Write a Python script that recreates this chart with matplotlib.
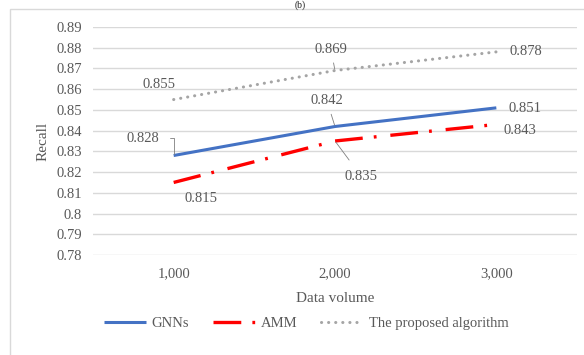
import matplotlib
matplotlib.use("Agg")
import matplotlib.pyplot as plt
from matplotlib.patches import Rectangle

categories = ["1,000", "2,000", "3,000"]
gnns = [0.828, 0.842, 0.851]
amm = [0.815, 0.835, 0.843]
proposed = [0.855, 0.869, 0.878]
yticks = [0.78, 0.79, 0.80, 0.81, 0.82, 0.83, 0.84, 0.85, 0.86, 0.87, 0.88, 0.89]
ytick_labels = ["0.78", "0.79", "0.8", "0.81", "0.82", "0.83", "0.84", "0.85", "0.86", "0.87", "0.88", "0.89"]

plt.rcParams['font.family'] = ['Liberation Serif', 'DejaVu Serif']
plt.rcParams['lines.scale_dashes'] = False
TXT = "#595959"
FS = 10.5

fig = plt.figure(figsize=(5.84, 3.55), dpi=100)
ax = fig.add_axes([93/584, 1-255/355, (577-93)/584, (255-27)/355])

# outer border
fig.patches.append(Rectangle((10/584, -0.05), 0.99, 1-9/355+0.05,
                             transform=fig.transFigure, fill=False,
                             edgecolor="#d9d9d9", lw=1))
fig.text(300/584, 0.999, "(b)", ha="center", va="top", fontsize=7, color="#222222")

x = list(range(len(categories)))
ax.set_xlim(-0.5, 2.5)
ax.set_ylim(0.78, 0.89)
ax.set_yticks(yticks)
ax.set_yticklabels(ytick_labels)
ax.set_xticks(x)
ax.set_xticklabels(categories)
ax.grid(axis="y", color="#d9d9d9", lw=1)
ax.set_axisbelow(True)
for s in ax.spines.values():
    s.set_visible(False)
ax.tick_params(length=0, labelsize=FS, colors=TXT)
ax.tick_params(axis="y", pad=8)
ax.tick_params(axis="x", pad=9)
ax.set_xlabel("Data volume", fontsize=FS+0.5, color=TXT, labelpad=8)
ax.set_ylabel("Recall", fontsize=FS+0.5, color=TXT, labelpad=5)

ax.plot(x, gnns, color="#4472C4", lw=2.2, solid_capstyle="butt", label="GNNs")
ax.plot(x, amm, color="#FF0000", lw=2.4, linestyle=(0, (20, 8, 2, 10)),
        dash_capstyle="butt", label="AMM")
ax.plot(x, proposed, color="#A5A5A5", lw=2.2, linestyle=(0, (0.1, 5)),
        dash_capstyle="round", label="The proposed algorithm")

def lab(xi, yi, dx, dy, leader=False, conn="arc3", shrinkA=6):
    kw = {}
    if leader:
        kw["arrowprops"] = dict(arrowstyle="-", color="#7f7f7f", lw=0.6,
                                shrinkA=shrinkA, shrinkB=1, connectionstyle=conn)
    ax.annotate(f"{yi:.3f}", (xi, yi), xytext=(dx, dy), textcoords="offset pixels",
                ha="center", va="center", fontsize=FS, color=TXT, **kw)

lab(0, proposed[0], -15, 15)
lab(1, proposed[1], -4, 21, leader=True, shrinkA=3)
lab(2, proposed[2], 30, 0)
lab(0, gnns[0], -31, 17.5, leader=True, conn="angle,angleA=0,angleB=90,rad=0")
lab(1, gnns[1], -8, 25.5, leader=True, shrinkA=3)
lab(2, gnns[2], 29, -1)
lab(0, amm[0], 27, -16.5)
lab(1, amm[1], 26, -35, leader=True)
lab(2, amm[2], 24, -5.6)

leg = fig.legend(loc="center", bbox_to_anchor=(306/584, 1-323/355), ncol=3, frameon=False,
                 fontsize=FS, handlelength=2.9, columnspacing=1.6, handletextpad=0.4)
for t in leg.get_texts():
    t.set_color(TXT)

fig.savefig("out.png", dpi=100)
